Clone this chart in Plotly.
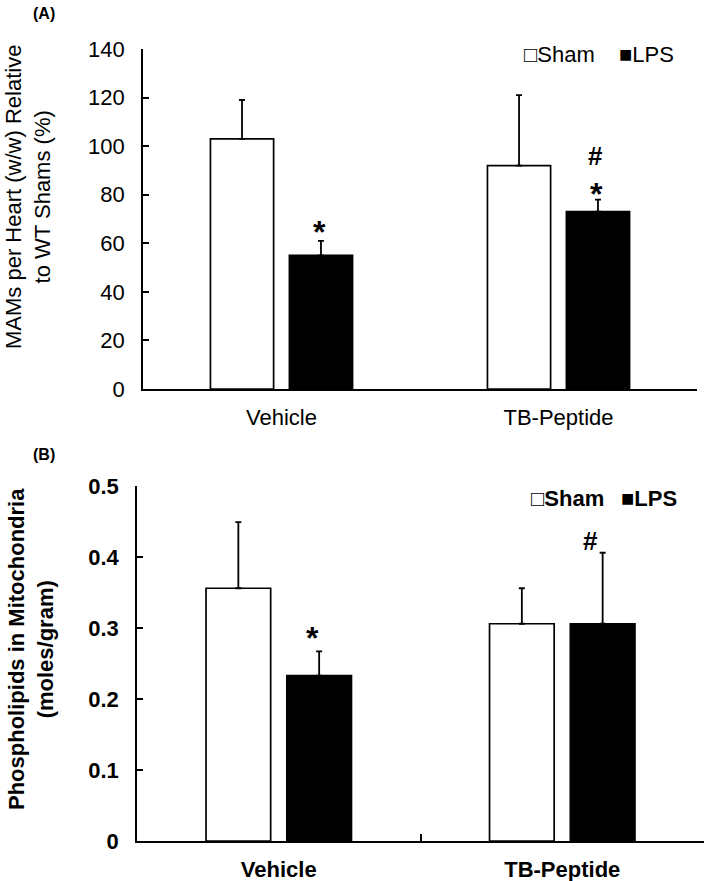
import plotly.graph_objects as go

# ---- data ----
categories = ["Vehicle", "TB-Peptide"]
series_names = ["Sham", "LPS"]

mams_sham = [103, 92]
mams_sham_err = [16, 29]
mams_lps = [55, 73]
mams_lps_err = [6, 5]

phos_sham = [0.356, 0.306]
phos_sham_err = [0.093, 0.050]
phos_lps = [0.233, 0.306]
phos_lps_err = [0.034, 0.100]

mams_ticks = [0, 20, 40, 60, 80, 100, 120, 140]
phos_ticks = [0, 0.1, 0.2, 0.3, 0.4, 0.5]

FONT = "Arial, Liberation Sans, sans-serif"
W, H = 709, 881

fig = go.Figure()


def add_bars(xa, ya, sham, sham_err, lps, lps_err):
    fig.add_trace(go.Bar(
        x=categories, y=sham, name=series_names[0], xaxis=xa, yaxis=ya,
        marker=dict(color="white", line=dict(color="black", width=1.7)),
        error_y=dict(type="data", array=sham_err, arrayminus=[0] * len(sham_err),
                     symmetric=False, color="black", thickness=1.8, width=3),
        showlegend=False,
    ))
    fig.add_trace(go.Bar(
        x=categories, y=lps, name=series_names[1], xaxis=xa, yaxis=ya,
        marker=dict(color="black", line=dict(color="black", width=1.7)),
        error_y=dict(type="data", array=lps_err, arrayminus=[0] * len(lps_err),
                     symmetric=False, color="black", thickness=1.8, width=3),
        showlegend=False,
    ))


add_bars("x", "y", mams_sham, mams_sham_err, mams_lps, mams_lps_err)
add_bars("x2", "y2", phos_sham, phos_sham_err, phos_lps, phos_lps_err)


def px_x(p):
    return p / W


def px_y(p):
    return 1 - p / H


axis_common = dict(showline=True, linecolor="black", linewidth=1.7,
                   showgrid=False, zeroline=False, mirror=False, automargin=False)

fig.update_layout(
    width=W, height=H, autosize=False,
    margin=dict(l=0, r=0, t=0, b=0, pad=0),
    paper_bgcolor="white", plot_bgcolor="white",
    barmode="group", bargap=0.43, bargroupgap=0.2,
    font=dict(family=FONT, color="black"),
    xaxis=dict(domain=[px_x(143), px_x(697)], anchor="y", type="category",
               ticks="", tickfont=dict(size=22, family=FONT),
               ticklabelstandoff=8, **axis_common),
    yaxis=dict(domain=[px_y(389), px_y(49)], anchor="x", range=[0, 140],
               tickvals=mams_ticks, ticks="inside", ticklen=6, tickwidth=1.7,
               tickcolor="black", tickfont=dict(size=22, family=FONT),
               ticklabelstandoff=12, **axis_common),
    xaxis2=dict(domain=[px_x(137), px_x(704)], anchor="y2", type="category",
                ticks="inside", tickson="boundaries", ticklen=7, tickwidth=1.7,
                tickcolor="black",
                tickvals=categories, ticktext=[f"<b>{c}</b>" for c in categories],
                tickfont=dict(size=22, family=FONT),
                ticklabelstandoff=8, **axis_common),
    yaxis2=dict(domain=[px_y(841), px_y(486)], anchor="x2", range=[0, 0.5],
                tickvals=phos_ticks, ticktext=[f"<b>{v:g}</b>" for v in phos_ticks],
                ticks="inside", ticklen=6, tickwidth=1.7,
                tickcolor="black", tickfont=dict(size=22, family=FONT),
                ticklabelstandoff=12, **axis_common),
)

ann = []
# panel labels
ann.append(dict(text="<b>(A)</b>", xref="paper", yref="paper", x=px_x(44), y=px_y(14),
                xanchor="center", yanchor="middle", showarrow=False, font=dict(size=16)))
ann.append(dict(text="<b>(B)</b>", xref="paper", yref="paper", x=px_x(44), y=px_y(455),
                xanchor="center", yanchor="middle", showarrow=False, font=dict(size=16)))
# y-axis titles
ann.append(dict(text="MAMs per Heart (w/w) Relative<br>to WT Shams (%)", xref="paper",
                yref="paper", x=px_x(28), y=px_y(197), textangle=-90, showarrow=False,
                xanchor="center", yanchor="middle", font=dict(size=22)))
ann.append(dict(text="<b>Phospholipids in Mitochondria<br>(moles/gram)</b>", xref="paper",
                yref="paper", x=px_x(31), y=px_y(649), textangle=-90, showarrow=False,
                xanchor="center", yanchor="middle", font=dict(size=22)))
# legends
ann.append(dict(text="\u25a1Sham", xref="paper", yref="paper", x=px_x(522), y=px_y(55),
                xanchor="left", yanchor="middle", showarrow=False, font=dict(size=22)))
ann.append(dict(text="\u25a0LPS", xref="paper", yref="paper", x=px_x(617), y=px_y(55),
                xanchor="left", yanchor="middle", showarrow=False, font=dict(size=22)))
ann.append(dict(text="<b>\u25a1Sham</b>", xref="paper", yref="paper", x=px_x(529), y=px_y(498),
                xanchor="left", yanchor="middle", showarrow=False, font=dict(size=22)))
ann.append(dict(text="<b>\u25a0LPS</b>", xref="paper", yref="paper", x=px_x(619), y=px_y(498),
                xanchor="left", yanchor="middle", showarrow=False, font=dict(size=22)))

# significance markers
ann.append(dict(text="<b>*</b>", xref="x", yref="y", x=categories[0],
                y=mams_lps[0] + mams_lps_err[0], xshift=38, yshift=-11,
                yanchor="bottom", showarrow=False, font=dict(size=32)))
ann.append(dict(text="<b>*</b>", xref="x", yref="y", x=categories[1],
                y=mams_lps[1] + mams_lps_err[1], xshift=38, yshift=-14,
                yanchor="bottom", showarrow=False, font=dict(size=32)))
ann.append(dict(text="<b>#</b>", xref="x", yref="y", x=categories[1],
                y=mams_lps[1] + mams_lps_err[1], xshift=37, yshift=27,
                yanchor="bottom", showarrow=False, font=dict(size=26)))
ann.append(dict(text="<b>*</b>", xref="x2", yref="y2", x=categories[0],
                y=phos_lps[0] + phos_lps_err[0], xshift=34, yshift=-7,
                yanchor="bottom", showarrow=False, font=dict(size=32)))
ann.append(dict(text="<b>#</b>", xref="x2", yref="y2", x=categories[1],
                y=phos_lps[1] + phos_lps_err[1], xshift=28, yshift=-5,
                yanchor="bottom", showarrow=False, font=dict(size=26)))

fig.update_layout(annotations=ann)

# remove the default page margin so the figure fills the window exactly
fig.write_html("out.html", config={"displayModeBar": False},
               post_script="document.body.style.margin='0';")
